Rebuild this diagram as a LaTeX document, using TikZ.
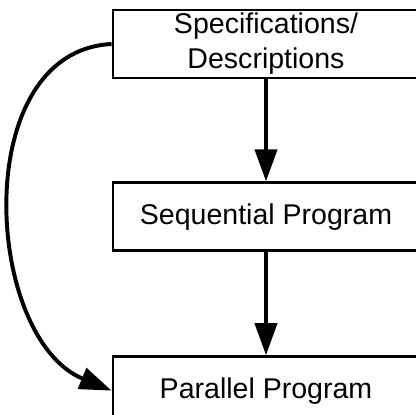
\documentclass[tikz,border=0pt]{standalone}
\usepackage{fontspec}
\setmainfont{Liberation Sans}
\usetikzlibrary{arrows.meta,positioning}

\begin{document}
\begin{tikzpicture}[
  stage/.style={draw, line width=2pt, minimum width=7.65cm, minimum height=1.7cm,
                inner sep=0pt, align=center, font=\fontsize{20.3}{24.9}\selectfont},
  flow/.style={line width=2.8pt, -{Triangle[length=0.8cm,width=0.55cm]}}
]
  \useasboundingbox (0,0) rectangle (10.4,-10.35);
  % the three stages, stacked
  \node[stage] (spec) at (6.65,-1.1) {Specifications/\\Descriptions};
  \node[stage, below=2.55cm of spec] (seq) {Sequential Program};
  \node[stage, below=2.575cm of seq] (par) {Parallel Program};
  % straight path through the sequential version
  \draw[flow] (spec) -- (seq);
  \draw[flow] (seq) -- (par);
  % direct path round the left side
  \draw[flow] (spec.west) .. controls +(-3.575,-0.175) and +(-3.2,1.325) .. (par.west);
\end{tikzpicture}
\end{document}
